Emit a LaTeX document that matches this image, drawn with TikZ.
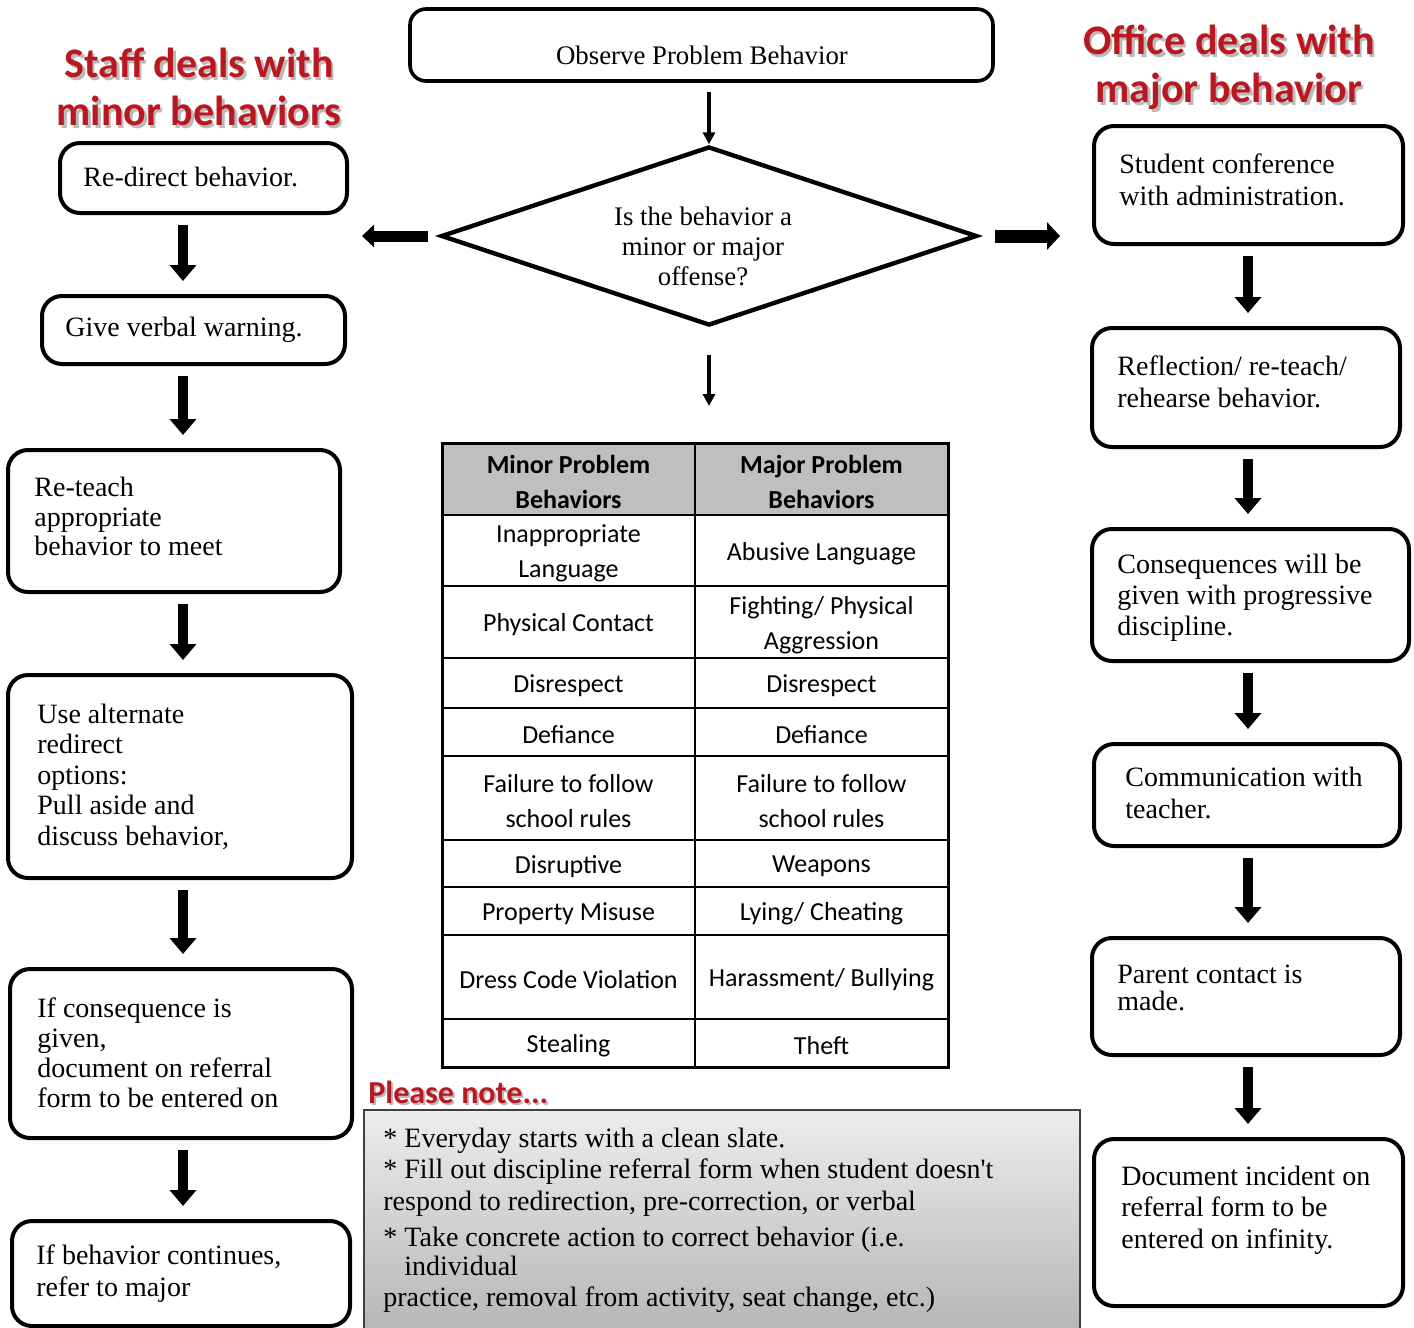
\documentclass[tikz,border=0pt]{standalone}
\usepackage{fontspec}
\setmainfont{Liberation Serif}
\newfontfamily\calib{Carlito}
\usetikzlibrary{arrows.meta,shapes.geometric,fit}
\definecolor{titlered}{RGB}{186,24,32}
\definecolor{headgray}{RGB}{191,191,191}
\begin{document}
\begin{tikzpicture}[x=0.5pt,y=-0.5pt,
  rbox/.style={draw, line width=2pt, rounded corners=10pt, inner sep=0pt},
  btxt/.style={font=\fontsize{14}{15.75}\selectfont, align=left, inner sep=0pt, anchor=west, yshift=-1.3pt},
  ttl/.style={font=\calib\bfseries\fontsize{21}{24}\selectfont, text=titlered, align=center, inner sep=0pt},
  ttlsh/.style={font=\calib\bfseries\fontsize{21}{24}\selectfont, text=black!45, opacity=0.6, align=center, inner sep=0pt},
  cell/.style={font=\calib\fontsize{13}{17.5}\selectfont, align=center, inner sep=0pt, yshift=-1.5pt},
  blk/.style={line width=4.7pt, -{Triangle[width=13pt,length=8pt]}, shorten <=5pt, shorten >=6.5pt},
  thinarr/.style={line width=2pt, -{Triangle[width=6pt,length=6pt]}},
  gridline/.style={line width=1pt}
]
\useasboundingbox (0,0) rectangle (1414,1328);

% titles
\node[ttlsh] at (201.5,89.5) {Staff deals with\\minor behaviors};
\node[ttl] (tleft) at (199,87) {Staff deals with\\minor behaviors};
\node[ttlsh] at (1231.5,70) {Office deals with\\major behavior};
\node[ttl] (tright) at (1229,67.5) {Office deals with\\major behavior};

% top box and decision
\node[draw, line width=1.8pt, rounded corners=8pt, inner sep=0pt, fit={(410,9) (993,81)}] (top) {};
\node[font=\fontsize{13.4}{15}\selectfont, inner sep=0pt] (topt) at (702,55) {Observe Problem Behavior};
\node[diamond, draw, line width=2.2pt, aspect=3, minimum width=268pt, minimum height=89.5pt, inner sep=0pt] (dia) at (709,236) {};
\node[font=\fontsize{13.4}{15}\selectfont, align=center, inner sep=0pt] (diat) at (703,246) {Is the behavior a\\minor or major\\offense?};

\coordinate (la) at (362,236);
\coordinate (ra) at (1060,236);
\coordinate (tabtop) at (709,443);
\draw[thinarr, shorten <=4.5pt] (top.south -| dia.north) -- (dia.north);
\draw[line width=5.5pt, -{Triangle[width=11pt,length=6pt]}, shorten <=5.5pt] (dia.west) -- (la);
\draw[line width=6.5pt, -{Triangle[width=13.5pt,length=6.5pt]}, shorten <=8pt] (dia.east) -- (ra);
\draw[thinarr, shorten <=13.5pt, shorten >=18.5pt] (dia.south) -- (tabtop);

% table
\fill[headgray] (442,443) rectangle (948,515);
\foreach \yy in {515,586,658,708,756,840,887,935,1019}
  \draw[gridline] (442,\yy) -- (948,\yy);
\draw[gridline] (695,443) -- (695,1067);
\draw[line width=1.5pt] (442,443) rectangle (948,1067);
\node[cell] (h1) at (568.5,479) {\bfseries Minor Problem\\\bfseries Behaviors};
\node[cell] (h2) at (821.5,479) {\bfseries Major Problem\\\bfseries Behaviors};
\node[cell] (a1) at (568.5,550.5) {Inappropriate\\Language};
\node[cell] (a2) at (821.5,550.5) {Abusive Language};
\node[cell] (b1) at (568.5,622) {Physical Contact};
\node[cell] (b2) at (821.5,622) {Fighting/ Physical\\Aggression};
\node[cell] (c1) at (568.5,683) {Disrespect};
\node[cell] (c2) at (821.5,683) {Disrespect};
\node[cell] (d1) at (568.5,732) {Defiance};
\node[cell] (d2) at (821.5,732) {Defiance};
\node[cell] (e1) at (568.5,798) {Failure to follow\\school rules};
\node[cell] (e2) at (821.5,798) {Failure to follow\\school rules};
\node[cell] (f1) at (568.5,863.5) {Disruptive};
\node[cell] (f2) at (821.5,863.5) {Weapons};
\node[cell] (g1) at (568.5,911) {Property Misuse};
\node[cell] (g2) at (821.5,911) {Lying/ Cheating};
\node[cell] (k1) at (568.5,977) {Dress Code Violation};
\node[cell] (k2) at (821.5,977) {Harassment/ Bullying};
\node[cell] (m1) at (568.5,1043) {Stealing};
\node[cell] (m2) at (821.5,1043) {Theft};

% left column
\node[rbox, fit={(60,143) (347,213)}] (l1) {};
\node[btxt] (l1t) at (83,174) {Re-direct behavior.};
\node[rbox, fit={(42,296) (345,364)}] (l2) {};
\node[btxt] (l2t) at (65,327) {Give verbal warning.};
\node[rbox, fit={(8,450) (340,592)}] (l3) {};
\node[btxt, font=\fontsize{14}{14.75}\selectfont] (l3t) at (34,514) {Re-teach\\appropriate\\behavior to meet};
\node[rbox, fit={(8,675) (352,878)}] (l4) {};
\node[btxt, font=\fontsize{14}{15.25}\selectfont] (l4t) at (37,774) {Use alternate\\redirect\\options:\\Pull aside and\\discuss behavior,};
\node[rbox, fit={(10,969) (352,1138)}] (l5) {};
\node[btxt, font=\fontsize{14}{15}\selectfont] (l5t) at (37,1050) {If consequence is\\given,\\document on referral\\form to be entered on};
\node[rbox, fit={(12,1221) (350,1326)}] (l6) {};
\node[btxt, font=\fontsize{14}{16}\selectfont] (l6t) at (36,1271) {If behavior continues,\\refer to major};

\coordinate (lcol) at (183,0);
\draw[blk] (l1.south -| lcol) -- (l2.north -| lcol);
\draw[blk] (l2.south -| lcol) -- (l3.north -| lcol);
\draw[blk] (l3.south -| lcol) -- (l4.north -| lcol);
\draw[blk] (l4.south -| lcol) -- (l5.north -| lcol);
\draw[blk] (l5.south -| lcol) -- (l6.north -| lcol);

% right column
\node[rbox, fit={(1094,126) (1403,244)}] (r1) {};
\node[btxt, font=\fontsize{14}{16}\selectfont] (r1t) at (1119,177) {Student conference\\with administration.};
\node[rbox, fit={(1092,328) (1400,447)}] (r2) {};
\node[btxt, font=\fontsize{14}{16}\selectfont] (r2t) at (1117,379) {Reflection/ re-teach/\\rehearse behavior.};
\node[rbox, fit={(1092,529) (1409,661)}] (r3) {};
\node[btxt, font=\fontsize{14}{15.5}\selectfont] (r3t) at (1117,595) {Consequences will be\\given with progressive\\discipline.};
\node[rbox, fit={(1094,744) (1400,846)}] (r4) {};
\node[btxt, font=\fontsize{14}{16}\selectfont] (r4t) at (1125,790) {Communication with\\teacher.};
\node[rbox, fit={(1092,938) (1400,1055)}] (r5) {};
\node[btxt, font=\fontsize{14}{13.5}\selectfont] (r5t) at (1117,985.5) {Parent contact is\\made.};
\node[rbox, fit={(1094,1139) (1403,1306)}] (r6) {};
\node[btxt, font=\fontsize{14}{15.75}\selectfont] (r6t) at (1121,1207.5) {Document incident on\\referral form to be\\entered on infinity.};

\coordinate (rcol) at (1248,0);
\draw[blk] (r1.south -| rcol) -- (r2.north -| rcol);
\draw[blk] (r2.south -| rcol) -- (r3.north -| rcol);
\draw[blk] (r3.south -| rcol) -- (r4.north -| rcol);
\draw[blk] (r4.south -| rcol) -- (r5.north -| rcol);
\draw[blk] (r5.south -| rcol) -- (r6.north -| rcol);

% note
\node[font=\calib\bfseries\fontsize{16}{18}\selectfont, text=black!45, opacity=0.6, inner sep=0pt, anchor=west] at (370,1094) {Please note...};
\node[font=\calib\bfseries\fontsize{16}{18}\selectfont, text=titlered, inner sep=0pt, anchor=west] (pn) at (368,1092) {Please note...};
\node[draw=black!75, line width=1pt, inner sep=0pt, top color=black!7, bottom color=black!30, fit={(364,1110) (1080,1345)}] (note) {};
\node[btxt] (notet) at (383,1217.5) {* Everyday starts with a clean slate.\\
* Fill out discipline referral form when student doesn\textquotesingle t\\
respond to redirection, pre-correction, or verbal\\[2.5pt]
* Take concrete action to correct behavior (i.e.\\[-1.5pt]
\hphantom{* }individual\\
practice, removal from activity, seat change, etc.)};
\end{tikzpicture}
\end{document}
